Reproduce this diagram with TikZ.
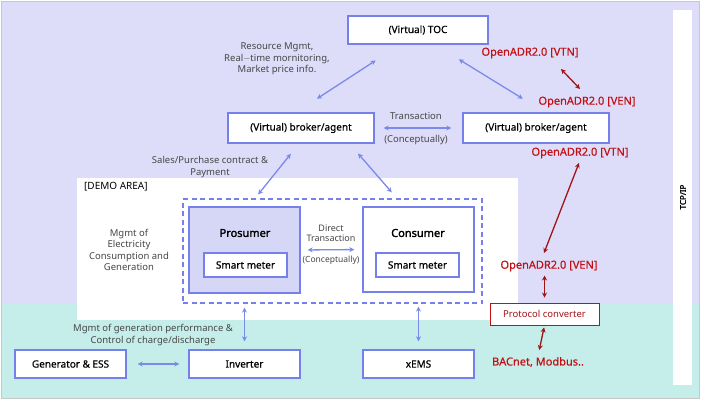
\documentclass[tikz,border=0pt]{standalone}
\usepackage{fontspec}
\setmainfont{Noto Sans}
\newfontfamily\boxfont{Noto Sans}[FakeBold=0.5]
\newfontfamily\titlefont{Noto Sans}[FakeBold=2]
\usetikzlibrary{calc,arrows.meta}
\definecolor{bglav}{RGB}{221,221,250}
\definecolor{bgcyan}{RGB}{197,238,234}
\definecolor{boxblue}{RGB}{118,128,236}
\definecolor{arrblue}{RGB}{122,138,232}
\definecolor{proslav}{RGB}{214,214,246}
\definecolor{adrred}{RGB}{196,16,20}
\definecolor{arrred}{RGB}{160,20,24}
\definecolor{labgray}{RGB}{70,70,70}
\definecolor{framegray}{RGB}{200,200,200}

\begin{document}
\begin{tikzpicture}[x=1pt,y=-1pt,
  box/.style={draw=boxblue, line width=1.3pt, fill=white, inner sep=0pt,
    font=\boxfont\fontsize{10}{12}\selectfont},
  meterbox/.style={box, minimum width=83pt, minimum height=24pt},
  title/.style={font=\titlefont\fontsize{11}{13}\selectfont},
  note/.style={text=labgray, align=center, inner sep=0pt,
    font=\fontsize{9.5}{11.5}\selectfont},
  adr/.style={text=adrred, inner sep=1pt, font=\boxfont\fontsize{11}{13}\selectfont},
  barrow/.style={{Stealth[length=5pt,width=5pt]}-{Stealth[length=5pt,width=5pt]},
    draw=arrblue, line width=1.3pt},
  rarrow/.style={{Stealth[length=5pt,width=5pt]}-{Stealth[length=5pt,width=5pt]},
    draw=arrred, line width=1.3pt}]
\useasboundingbox (0,0) rectangle (702,402);

% background zones
\draw[framegray, fill=bglav, line width=1pt] (1.5,1.5) rectangle (699.5,398.5);
\fill[bgcyan] (2,304) rectangle (699,398);
\fill[white] (77,178) rectangle (518,320);
\fill[white] (673,10) rectangle (692,385);
\node[rotate=90, font=\titlefont\fontsize{8}{9}\selectfont] (tcp) at (683,197) {TCP/IP};
\node[anchor=west, inner sep=0pt, font=\fontsize{10}{12}\selectfont] (demo) at (84,187) {[DEMO AREA]};

% boxes
\node[box, minimum width=140pt, minimum height=28pt] (toc) at (418,30) {(Virtual) TOC};
\node[box, minimum width=146pt, minimum height=30pt] (brokerL) at (301,128) {(Virtual) broker/agent};
\node[box, minimum width=146pt, minimum height=30pt] (brokerR) at (536,128) {(Virtual) broker/agent};
\node[draw=boxblue, line width=1.2pt, dash pattern=on 5pt off 3.5pt,
  minimum width=299pt, minimum height=104pt] (market) at (332.5,251) {};
\node[box, fill=proslav, minimum width=111pt, minimum height=86pt] (pros) at (244.5,250) {};
\node[title] (prosT) at (245,233) {Prosumer};
\node[meterbox] (meterP) at (245.5,265) {Smart meter};
\node[box, minimum width=111pt, minimum height=85pt] (cons) at (418.5,249.5) {};
\node[title] (consT) at (418,233) {Consumer};
\node[meterbox] (meterC) at (417.5,265) {Smart meter};
\node[box, minimum width=111pt, minimum height=28pt] (gen) at (70.5,364) {Generator \& ESS};
\node[box, minimum width=111pt, minimum height=28pt] (inv) at (244.5,364) {Inverter};
\node[box, minimum width=111pt, minimum height=28pt] (xems) at (418.5,364) {xEMS};
\node[box, draw=adrred, line width=0.9pt, minimum width=109pt, minimum height=22pt,
  text=arrred, font=\fontsize{9.5}{11}\selectfont] (conv) at (544.5,314) {Protocol converter};

% protocol labels
\node[adr] (vtnA) at (530,53) {OpenADR2.0 [VTN]};
\node[adr] (venA) at (587,102) {OpenADR2.0 [VEN]};
\node[adr] (vtnB) at (580,153) {OpenADR2.0 [VTN]};
\node[adr] (venB) at (549,266) {OpenADR2.0 [VEN]};
\node[adr] (bacnet) at (538,362) {BACnet, Modbus..};

% notes
\node[note] (resource) at (277,59) {Resource Mgmt,\\Real$-$time mornitoring,\\Market price info.};
\node[note] (trans) at (416,116) {Transaction};
\node[note] (transC) at (416,140) {(Conceptually)};
\node[note] (sales) at (210,167) {Sales/Purchase contract \&\\Payment};
\node[note, font=\fontsize{9}{10.5}\selectfont] (direct) at (331,233) {Direct\\Transaction};
\node[note, font=\fontsize{8.5}{10}\selectfont] (directC) at (331,260) {(Conceptually)};
\node[note] (elec) at (129,250) {Mgmt of\\Electricity\\Consumption and\\Generation};
\node[note] (genmgmt) at (153,335) {Mgmt of generation performance \&\\Control of charge/discharge};

% blue connectors
\draw[barrow, shorten <=25pt, shorten >=29pt] ([xshift=-5pt]brokerL.north) -- ([xshift=-18pt]toc.south);
\draw[barrow, shorten <=28pt, shorten >=26pt] ([xshift=17pt]toc.south) -- ([xshift=9pt]brokerR.north);
\draw[barrow, shorten <=9pt, shorten >=11pt] (brokerL.east) -- (brokerR.west);
\draw[barrow, shorten <=13pt, shorten >=5pt] ([xshift=-2pt]brokerL.south) -- ([xshift=-77.5pt]market.north);
\draw[barrow, shorten <=13pt, shorten >=8pt] ([xshift=48.5pt]brokerL.south) -- ([xshift=64.5pt]market.north);
\draw[barrow, shorten <=7pt, shorten >=8pt] (pros.east) -- (cons.west);
\draw[barrow, shorten <=4pt, shorten >=8pt] (pros.south |- market.south) -- (inv.north);
\draw[barrow, shorten <=3pt, shorten >=8pt] (cons.south |- market.south) -- (xems.north);
\draw[barrow, shorten <=11pt, shorten >=9pt] (gen.east) -- (inv.west);

% red connectors
\draw[rarrow] ($(vtnA.center)+(31,16)$) -- ($(venA.center)+(-7,-13)$);
\draw[rarrow] ($(vtnB.center)+(-1,10)$) -- ($(venB.center)+(-5,-13)$);
\draw[rarrow, shorten <=5pt, shorten >=3pt] (conv.north) -- (conv.north |- venB.south);
\draw[rarrow, shorten <=2pt, shorten >=6pt] (conv.south) -- (bacnet.north);
\end{tikzpicture}
\end{document}
